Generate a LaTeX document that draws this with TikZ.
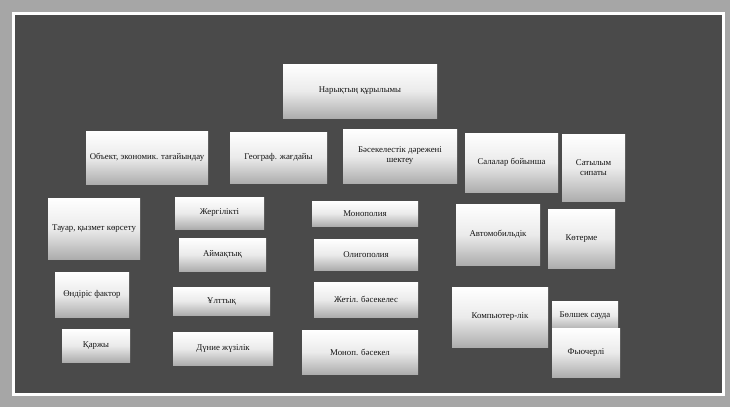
\documentclass[tikz,border=0pt]{standalone}
\usepackage{fontspec}
\setmainfont{Liberation Serif}
\usetikzlibrary{calc}

\begin{document}
\begin{tikzpicture}[
		x=1pt,y=-1pt,
		font=\fontsize{8.8}{10}\selectfont,
		card/.style={
			rectangle,
			top color=white,
			bottom color=black!32,
			middle color=black!8,
			draw=none,
			text=black!92,
			align=center,
			inner sep=1pt
		}
	]
		\useasboundingbox (0,0) rectangle (730,407);
		\fill[black!35] (0,0) rectangle (730,407);
		\fill[white] (12,12) rectangle (725,396);
		\fill[black!71] (15,15) rectangle (722,393);

		% top level
		\node[card,minimum width=154,minimum height=54] (root) at (360,91) {Нарықтың құрылымы};

		% criteria row
		\node[card,minimum width=122,minimum height=53] (obj) at (147,157.5) {Объект, экономик. тағайындау};
		\node[card,minimum width=97,minimum height=51] (geo) at (278.5,157.5) {Географ. жағдайы};
		\node[card,minimum width=114,minimum height=54] (comp) at (400,156) {Бәсекелестік дәрежені\\шектеу};
		\node[card,minimum width=93,minimum height=59] (branch) at (511.5,162.5) {Салалар бойынша};
		\node[card,minimum width=63,minimum height=67] (sale) at (593.5,167.5) {Сатылым\\сипаты};

		% by object
		\node[card,minimum width=92,minimum height=61] (goods) at (94,228.5) {Тауар, қызмет көрсету};
		\node[card,minimum width=74,minimum height=45] (prod) at (92,294.5) {Өндіріс фактор};
		\node[card,minimum width=68,minimum height=33] (fin) at (96,345.5) {Қаржы};

		% by geography
		\node[card,minimum width=89,minimum height=32] (local) at (219.5,213) {Жергілікті};
		\node[card,minimum width=87,minimum height=33] (region) at (222.5,254.5) {Аймақтық};
		\node[card,minimum width=97,minimum height=28] (nation) at (221.5,301) {Ұлттық};
		\node[card,minimum width=100,minimum height=33] (world) at (223,348.5) {Дүние жүзілік};

		% by competition
		\node[card,minimum width=106,minimum height=25] (mono) at (365,213.5) {Монополия};
		\node[card,minimum width=104,minimum height=31] (oligo) at (366,254.5) {Олигополия};
		\node[card,minimum width=104,minimum height=35] (perfect) at (366,299.5) {Жетіл. бәсекелес};
		\node[card,minimum width=116,minimum height=44] (monocomp) at (360,352) {Моноп. бәсекел};

		% by branch
		\node[card,minimum width=84,minimum height=61] (auto) at (498,234.5) {Автомобильдік};
		\node[card,minimum width=96,minimum height=60] (pc) at (500,317) {Компьютер-лік};

		% by sale
		\node[card,minimum width=67,minimum height=59] (whole) at (581.5,238.5) {Көтерме};
		\node[card,minimum width=66,minimum height=29] (retail) at (585,315.5) {Бөлшек сауда};
		\node[card,minimum width=68,minimum height=49] (futures) at (586,352.5) {Фьючерлі};
	\end{tikzpicture}
\end{document}
